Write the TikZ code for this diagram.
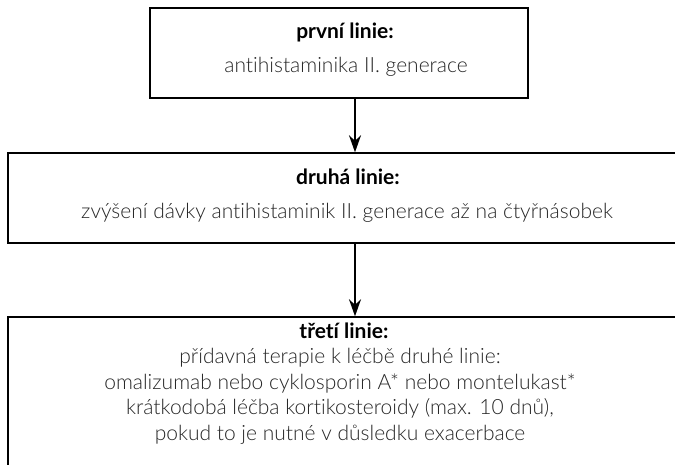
\documentclass[tikz,border=0pt]{standalone}
\usepackage{fontspec}
\setmainfont{Lato}[UprightFont=* Light, BoldFont=* Bold, Ligatures={TeX,NoCommon}]
\usetikzlibrary{arrows.meta}
\begin{document}
\begin{tikzpicture}[x=1pt,y=-1pt,
  box/.style={draw=black, line width=1.4pt, inner sep=0pt},
  hd/.style={font=\fontsize{21}{24}\selectfont\bfseries, anchor=base, inner sep=0pt, text=black},
  tx/.style={font=\fontsize{21}{24}\selectfont, anchor=base, inner sep=0pt, text=black!85},
  arr/.style={line width=1.8pt, -{Stealth[length=17pt,width=12pt]}}]
\useasboundingbox (0,0) rectangle (675,464);
\node[box, minimum width=378pt, minimum height=90pt] (b1) at (339,53) {};
\node[box, minimum width=669pt, minimum height=90pt] (b2) at (342.5,198) {};
\node[box, minimum width=669pt, minimum height=155pt] (b3) at (342.5,394.5) {};
\coordinate (ax) at (355,0);
\draw[arr] (b1.south -| ax) -- (b2.north -| ax);
\draw[arr] (b2.south -| ax) -- (b3.north -| ax);
\node[hd] (t1a) at (345,38) {první linie:};
\node[tx] (t1b) at (346,72) {antihistaminika II. generace};
\node[hd] (t2a) at (348,184) {druhá linie:};
\node[tx] (t2b) at (347,218) {zvýšení dávky antihistaminik II. generace až na čtyřnásobek};
\node[hd] (t3a) at (344,338) {třetí linie:};
\node[tx] (t3b) at (340,363.5) {přídavná terapie k léčbě druhé linie:};
\node[tx] (t3c) at (340,389) {omalizumab nebo cyklosporin A* nebo montelukast*};
\node[tx] (t3d) at (340,414.5) {krátkodobá léčba kortikosteroidy (max. 10 dnů),};
\node[tx] (t3e) at (340,440) {pokud to je nutné v důsledku exacerbace};
\end{tikzpicture}
\end{document}
